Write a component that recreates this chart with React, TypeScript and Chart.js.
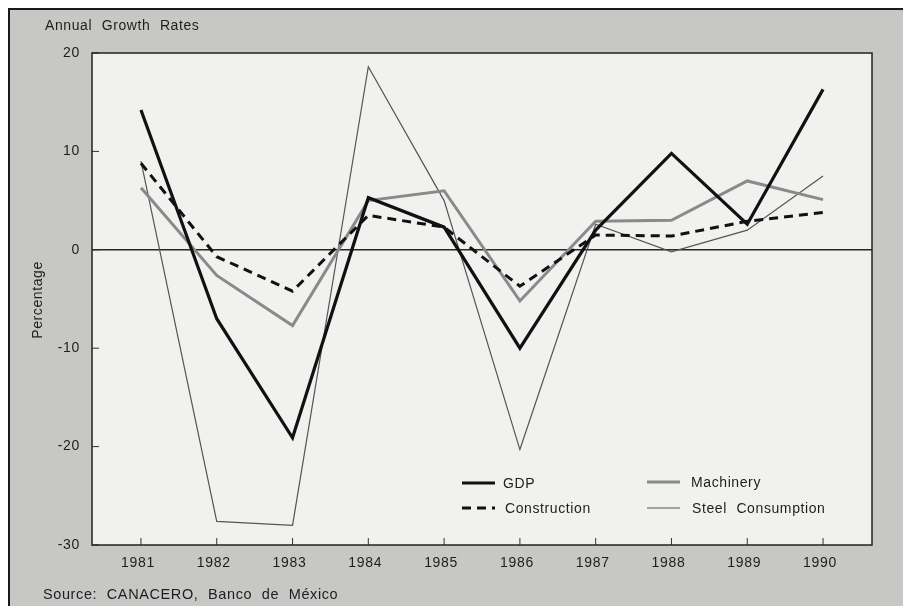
import React, { useEffect, useRef } from "react";
import { Chart, registerables } from "chart.js";

Chart.register(...registerables);

const years = [1981, 1982, 1983, 1984, 1985, 1986, 1987, 1988, 1989, 1990];
const gdp = [14.2, -7.0, -19.1, 5.3, 2.3, -10.0, 2.0, 9.8, 2.6, 16.3];
const construction = [8.8, -0.7, -4.2, 3.5, 2.3, -3.7, 1.5, 1.4, 2.9, 3.8];
const machinery = [6.3, -2.6, -7.7, 5.0, 6.0, -5.2, 2.9, 3.0, 7.0, 5.1];
const steel = [9.0, -27.6, -28.0, 18.6, 5.0, -20.3, 2.6, -0.2, 2.0, 7.5];
const yTicks = [20, 10, 0, -10, -20, -30];
const labels = {
  title: "Annual Growth Rates",
  yTitle: "Percentage",
  source: "Source: CANACERO, Banco de México",
};

const FONT = "'Liberation Sans', Arial, sans-serif";

const toXY = (vals: number[]) => vals.map((v, i) => ({ x: years[i], y: v }));

export default function App() {
  const ref = useRef<HTMLCanvasElement | null>(null);
  useEffect(() => {
    if (!ref.current) return;
    const decor = {
      id: "decor",
      beforeDraw(chart: any) {
        const { ctx, chartArea: a } = chart;
        ctx.save();
        ctx.fillStyle = "#f1f1ef";
        ctx.fillRect(a.left, a.top, a.right - a.left, a.bottom - a.top);
        ctx.restore();
        (ctx as any).letterSpacing = "0.7px";
        (ctx as any).wordSpacing = "4px";
      },
      beforeDatasetsDraw(chart: any) {
        const { ctx, chartArea: a, scales } = chart;
        ctx.save();
        const y0 = scales.y.getPixelForValue(0);
        ctx.strokeStyle = "#2a2622";
        ctx.lineWidth = 1.5;
        ctx.beginPath();
        ctx.moveTo(a.left, y0);
        ctx.lineTo(a.right, y0);
        ctx.stroke();
        ctx.lineWidth = 1;
        ctx.strokeStyle = "#333";
        years.forEach((yr) => {
          const x = scales.x.getPixelForValue(yr);
          ctx.beginPath();
          ctx.moveTo(x, a.bottom);
          ctx.lineTo(x, a.bottom - 7);
          ctx.stroke();
        });
        yTicks.forEach((t) => {
          const y = scales.y.getPixelForValue(t);
          ctx.beginPath();
          ctx.moveTo(a.left, y);
          ctx.lineTo(a.left + 7, y);
          ctx.stroke();
        });
        ctx.restore();
      },
      afterDraw(chart: any) {
        const { ctx, chartArea: a } = chart;
        ctx.save();
        ctx.strokeStyle = "#222";
        ctx.lineWidth = 1.5;
        ctx.strokeRect(a.left, a.top, a.right - a.left, a.bottom - a.top);
        ctx.fillStyle = "#1e1e1e";
        (ctx as any).letterSpacing = "0.6px";
        (ctx as any).wordSpacing = "5px";
        ctx.font = `14px ${FONT}`;
        ctx.textBaseline = "middle";
        ctx.textAlign = "left";
        ctx.fillText(labels.title, 35, 16);
        ctx.font = `14.5px ${FONT}`;
        ctx.fillText(labels.source, 33, 585);
        ctx.save();
        ctx.translate(28, 290);
        ctx.rotate(-Math.PI / 2);
        ctx.textAlign = "center";
        ctx.font = `14px ${FONT}`;
        ctx.fillText(labels.yTitle, 0, 0);
        ctx.restore();
        const ds = chart.data.datasets;
        const items = [
          { i: 0, x: 452, y: 473, tx: 493 },
          { i: 2, x: 637, y: 472, tx: 681 },
          { i: 1, x: 452, y: 498, tx: 495 },
          { i: 3, x: 637, y: 498, tx: 682 },
        ];
        items.forEach((it) => {
          const d = ds[it.i];
          ctx.save();
          ctx.strokeStyle = d.borderColor;
          ctx.lineWidth = d.borderWidth;
          ctx.setLineDash(d.borderDash || []);
          ctx.beginPath();
          ctx.moveTo(it.x, it.y);
          ctx.lineTo(it.x + 33, it.y);
          ctx.stroke();
          ctx.restore();
          ctx.fillStyle = "#1e1e1e";
          ctx.font = `14px ${FONT}`;
          ctx.textAlign = "left";
          ctx.fillText(d.label, it.tx, it.y + 1);
        });
        ctx.restore();
      },
    };
    const chart = new Chart(ref.current, {
      type: "line",
      data: {
        datasets: [
          { label: "GDP", data: toXY(gdp), borderColor: "#111", borderWidth: 3.2, pointRadius: 0, tension: 0 },
          { label: "Construction", data: toXY(construction), borderColor: "#111", borderWidth: 3, borderDash: [9, 6], pointRadius: 0, tension: 0 },
          { label: "Machinery", data: toXY(machinery), borderColor: "#8a8a8a", borderWidth: 3, pointRadius: 0, tension: 0 },
          { label: "Steel Consumption", data: toXY(steel), borderColor: "#555", borderWidth: 1.2, pointRadius: 0, tension: 0 },
        ],
      },
      options: {
        responsive: false,
        animation: false,
        layout: { padding: { left: 22, right: 32, top: 43, bottom: 31 } },
        plugins: { legend: { display: false }, tooltip: { enabled: false }, title: { display: false } },
        scales: {
          x: {
            type: "linear",
            min: 1980.354,
            max: 1990.646,
            afterBuildTicks: (s: any) => {
              s.ticks = years.map((v) => ({ value: v }));
            },
            afterFit: (s: any) => {
              s.height = 30;
            },
            grid: { display: false, drawTicks: false },
            border: { display: false },
            ticks: {
              color: "#1e1e1e",
              font: { family: FONT, size: 14 },
              padding: 10,
              labelOffset: -3,
              maxRotation: 0,
              autoSkip: false,
              callback: (v: any) => String(v),
            },
          },
          y: {
            min: -30,
            max: 20,
            afterBuildTicks: (s: any) => {
              s.ticks = yTicks.map((v) => ({ value: v }));
            },
            afterFit: (s: any) => {
              s.width = 60;
            },
            grid: { display: false, drawTicks: false },
            border: { display: false },
            ticks: {
              color: "#1e1e1e",
              font: { family: FONT, size: 14 },
              padding: 12,
              callback: (v: any) => String(v),
            },
          },
        },
      },
      plugins: [decor],
    } as any);
    return () => chart.destroy();
  }, []);
  return (
    <div
      style={{
        position: "relative",
        width: 894,
        height: 596,
        background: "#c7c7c5",
        borderLeft: "2px solid #1a1a1a",
        borderTop: "2px solid #1a1a1a",
        borderRight: "2px solid #1a1a1a",
      }}
    >
      <canvas ref={ref} width={894} height={596} style={{ display: "block" }} />
    </div>
  );
}
